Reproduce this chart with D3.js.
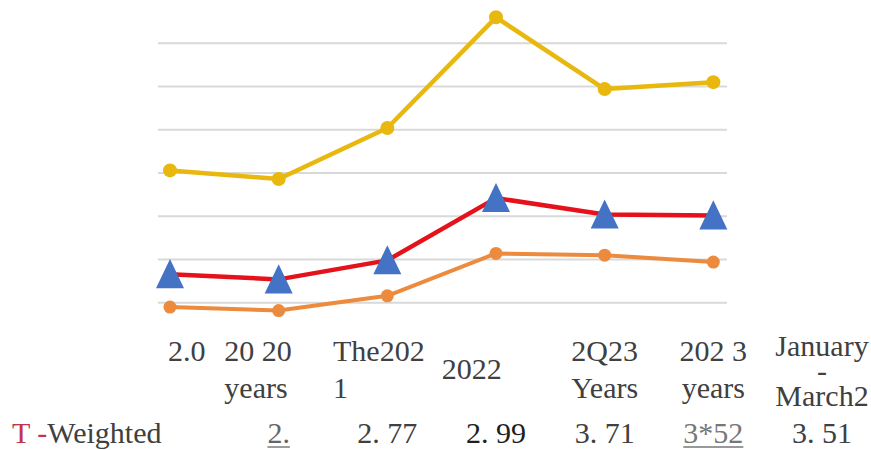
<!DOCTYPE html>
<html>
<head>
<meta charset="utf-8">
<script src="https://cdn.jsdelivr.net/npm/d3@7"></script>
</head>
<body style="margin:0">
<svg id="rates" width="871" height="450"></svg>
<script>
// ---- data ----
const periods = [["20 20", "years"], ["The202", "1"], ["2022"], ["2Q23", "Years"], ["202 3", "years"], ["January", "-", "March2"]];
const seriesHigh = [4.03, 3.93, 4.52, 5.80, 4.97, 5.05];      // yellow line, round markers
const seriesWeighted = [2.83, 2.77, 2.99, 3.71, 3.52, 3.51];  // red line, triangle markers
const seriesLow = [2.45, 2.41, 2.58, 3.07, 3.05, 2.97];       // orange line, round markers
const gridValues = [2.5, 3.0, 3.5, 4.0, 4.5, 5.0, 5.5];
const axisMinLabel = "2.0";
const rowTitle = ["T", " -", "Weighted"];
const rowCells = ["2.", "2. 77", "2. 99", "3. 71", "3*52", "3. 51"];

// ---- layout ----
const svg = d3.select("#rates");
const plotLeft = 158, plotRight = 727;

function label(parent) {
  return parent.append("text")
    .style("font-family", "Liberation Serif")
    .style("font-size", "30px");
}

// one column per table cell; markers sit one column left of their cell
const col = d3.scalePoint().domain(d3.range(periods.length + 1)).range([170, 822]);
const y = d3.scaleLinear().domain([2, 6]).range([346, 0]);

// gridlines
svg.append("g").selectAll("line").data(gridValues).join("line")
  .attr("x1", plotLeft).attr("x2", plotRight)
  .attr("y1", d => y(d)).attr("y2", d => y(d))
  .attr("stroke", "#d9d9d9").attr("stroke-width", 2);

const line = d3.line().x((d, i) => col(i)).y(d => y(d));

function drawSeries(values, color, width) {
  svg.append("path").datum(values)
    .attr("d", line).attr("fill", "none")
    .attr("stroke", color).attr("stroke-width", width)
    .attr("stroke-linejoin", "round").attr("stroke-linecap", "round");
}

drawSeries(seriesHigh, "#e8b80e", 4.5);
svg.append("g").selectAll("circle").data(seriesHigh).join("circle")
  .attr("cx", (d, i) => col(i)).attr("cy", d => y(d)).attr("r", 7)
  .attr("fill", "#e8b80e");

drawSeries(seriesLow, "#ec8b3e", 4);
svg.append("g").selectAll("circle").data(seriesLow).join("circle")
  .attr("cx", (d, i) => col(i)).attr("cy", d => y(d)).attr("r", 6.5)
  .attr("fill", "#ec8b3e");

drawSeries(seriesWeighted, "#e5121b", 4.5);
const triangle = {
  draw(ctx, size) {
    const w = Math.sqrt(size);
    ctx.moveTo(0, -w * 0.54);
    ctx.lineTo(w / 2, w * 0.5);
    ctx.lineTo(-w / 2, w * 0.5);
    ctx.closePath();
  }
};
svg.append("g").selectAll("path").data(seriesWeighted).join("path")
  .attr("transform", (d, i) => `translate(${col(i)},${y(d)})`)
  .attr("d", d3.symbol(triangle, 28 * 28))
  .attr("fill", "#4472c4");

// lowest value-axis label
label(svg)
  .attr("x", plotLeft + 10).attr("y", y(2) + 15)
  .attr("fill", "#404040")
  .text(axisMinLabel);

// period header cells
svg.append("clipPath").attr("id", "headClip")
  .append("rect").attr("x", 0).attr("y", 0).attr("width", 871).attr("height", 416);
const headAnchor = ["start", "start", "start", "middle", "middle", "middle"];
const head = svg.append("g").attr("clip-path", "url(#headClip)");
periods.forEach((lines, i) => {
  const anchor = headAnchor[i];
  const cx = anchor === "start" ? col(i + 1) - col.step() / 2 : col(i + 1);
  const gap = lines.length > 2 ? 25 : 37;
  const first = (lines.length > 2 ? 381 : 379) - (lines.length - 1) * gap / 2;
  const t = label(head).attr("fill", "#404040").attr("text-anchor", anchor);
  lines.forEach((s, k) => {
    t.append("tspan").attr("x", cx).attr("y", first + k * gap).text(s);
  });
});

// data row
const rowY = 443;
const title = label(svg).attr("x", 12).attr("y", rowY);
title.append("tspan").attr("fill", "#c0344f").text(rowTitle[0]);
title.append("tspan").attr("fill", "#c0344f").text(rowTitle[1]);
title.append("tspan").attr("fill", "#404040").text(rowTitle[2]);

const cellColor = ["#666", "#404040", "#1e1e1e", "#404040", "#777", "#404040"];
const underlined = [true, false, false, false, true, false];
rowCells.forEach((s, i) => {
  const t = label(svg)
    .attr("x", col(i + 1)).attr("y", rowY)
    .attr("text-anchor", "middle")
    .attr("fill", cellColor[i]).text(s);
  if (underlined[i]) {
    const w = t.node().getComputedTextLength();
    svg.append("line")
      .attr("x1", col(i + 1) - w / 2).attr("x2", col(i + 1) + w / 2)
      .attr("y1", rowY + 4).attr("y2", rowY + 4)
      .attr("stroke", cellColor[i]).attr("stroke-width", 1.3);
  }
});
</script>
</body>
</html>
